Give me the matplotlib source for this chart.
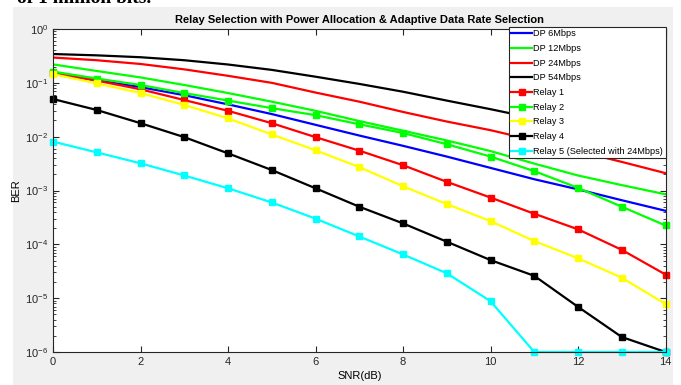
import matplotlib
matplotlib.use("Agg")
import matplotlib.pyplot as plt
from matplotlib.patches import Rectangle
import numpy as np

# SNR axis (dB)
snr = np.arange(0, 15)

# direct path BER curves
dp_6 = [0.148, 0.112, 0.0832, 0.0589, 0.0398, 0.0263, 0.0166, 0.0105, 0.00676, 0.00427,
        0.00263, 0.00162, 0.00105, 0.00066, 0.00042]
dp_12 = [0.22, 0.166, 0.126, 0.0912, 0.0646, 0.0447, 0.0302, 0.0195, 0.0129, 0.0085,
         0.0054, 0.00316, 0.0019, 0.00126, 0.00085]
dp_24 = [0.295, 0.263, 0.224, 0.178, 0.135, 0.1, 0.066, 0.0447, 0.0288, 0.0191,
         0.0132, 0.0085, 0.0054, 0.0034, 0.0021]
dp_54 = [0.343, 0.324, 0.299, 0.263, 0.219, 0.174, 0.130, 0.0955, 0.0684, 0.0468,
         0.0324, 0.0219, 0.0145, 0.00955, 0.0063]

# relay BER curves
relay_1 = [0.151, 0.11, 0.0759, 0.0479, 0.0302, 0.0178, 0.0098, 0.0055, 0.00295, 0.00145,
           0.00074, 0.00037, 0.00019, 7.9e-5, 2.75e-5]
relay_2 = [0.162, 0.12, 0.0912, 0.0646, 0.0468, 0.0339, 0.0251, 0.017, 0.0117, 0.00724,
           0.00427, 0.00229, 0.00112, 0.0005, 0.000224]
relay_3 = [0.145, 0.0977, 0.0646, 0.0389, 0.0219, 0.011, 0.0056, 0.00272, 0.0012, 0.00056,
           0.00027, 0.000115, 5.5e-5, 2.4e-5, 7.8e-6]
relay_4 = [0.05, 0.0313, 0.0178, 0.0098, 0.0049, 0.0024, 0.0011, 0.0005, 0.000245, 0.000112,
           5.1e-5, 2.6e-5, 6.9e-6, 1.9e-6, 1e-6]
relay_5 = [0.0081, 0.0051, 0.0032, 0.0019, 0.0011, 0.0006, 0.0003, 0.00014, 6.5e-5, 2.9e-5,
           8.8e-6, 1e-6, 1e-6, 1e-6, 1e-6]

dp_curves = [dp_6, dp_12, dp_24, dp_54]
dp_labels = ["DP 6Mbps", "DP 12Mbps", "DP 24Mbps", "DP 54Mbps"]
dp_colors = ["#0000ff", "#00ff00", "#ff0000", "#000000"]

relay_curves = [relay_1, relay_2, relay_3, relay_4, relay_5]
relay_labels = ["Relay 1", "Relay 2", "Relay 3", "Relay 4", "Relay 5 (Selected with 24Mbps)"]
relay_colors = ["#ff0000", "#00ff00", "#ffff00", "#000000", "#00ffff"]

plt.rcParams['font.family'] = ['Liberation Sans', 'DejaVu Sans']

fig = plt.figure(figsize=(6.81, 3.85), dpi=100, facecolor="white")
# grey matlab-like figure background
fig.patches.append(Rectangle((13 / 681, 0), 660 / 681, 1 - 7 / 385, transform=fig.transFigure,
                             facecolor="#f0f0f0", edgecolor="none", zorder=-10))
# cut-off line of text from the page above
fig.text(17 / 681, 1 - 3 / 385, "of 1 million bits.", fontsize=14, fontweight="bold",
         family="Liberation Serif", va="baseline", ha="left")

ax = fig.add_axes([53 / 681, 1 - 352 / 385, 612.5 / 681, 323 / 385])
ax.set_zorder(5)
ax.set_facecolor("white")

for y, lab, c in zip(dp_curves, dp_labels, dp_colors):
    ax.semilogy(snr, y, color=c, lw=1.6, label=lab)
for y, lab, c in zip(relay_curves, relay_labels, relay_colors):
    ax.semilogy(snr, y, color=c, lw=1.6, marker="s", ms=4, label=lab, clip_on=False)

ax.set_xlim(0, 14)
ax.set_ylim(1e-6, 1)
ax.set_xticks(np.arange(0, 15, 2))
ax.set_yticks([1e-6, 1e-5, 1e-4, 1e-3, 1e-2, 1e-1, 1])
ax.tick_params(which="both", direction="in", top=True, right=True, colors="#262626",
               labelsize=8, labelcolor="#262626")
ax.tick_params(which="major", length=4)
ax.tick_params(which="minor", length=2)
for s in ax.spines.values():
    s.set_color("#262626")
    s.set_linewidth(0.8)

ax.set_title("Relay Selection with Power Allocation & Adaptive Data Rate Selection",
             fontsize=8, fontweight="bold", pad=4)
ax.set_xlabel("SNR(dB)", fontsize=8, labelpad=3)
ax.set_ylabel("BER", fontsize=8, labelpad=3)

leg = ax.legend(loc="upper right", fontsize=6.6, borderaxespad=0, handlelength=2.3,
                handletextpad=0.15, labelspacing=0.62, fancybox=False, framealpha=1,
                borderpad=0.25, bbox_to_anchor=(1.0, 1.006))
leg.get_frame().set_edgecolor("#262626")
leg.get_frame().set_linewidth(0.8)

fig.savefig("out.png", dpi=100, facecolor=fig.get_facecolor())
